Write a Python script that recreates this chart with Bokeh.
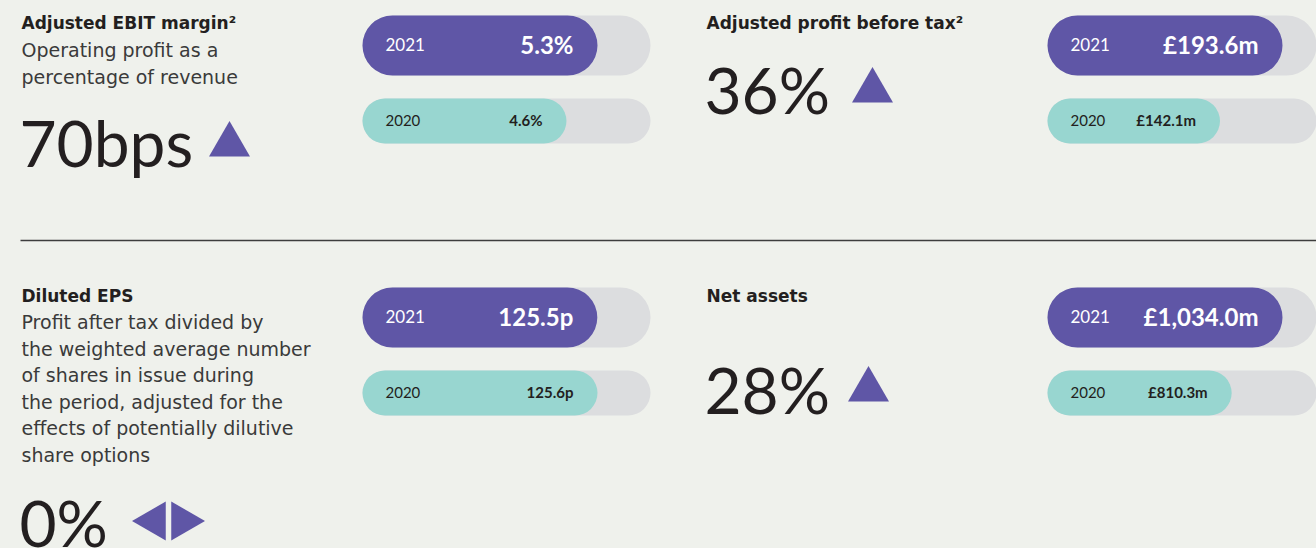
from bokeh.plotting import figure
from bokeh.models import Range1d
from bokeh.embed import file_html
from bokeh.resources import INLINE
from bokeh.core.properties import value
import math

# ---------------- data ----------------
metrics = ["Adjusted EBIT margin²", "Adjusted profit before tax²", "Diluted EPS", "Net assets"]
descriptions = [
    ["Operating profit as a", "percentage of revenue"],
    [],
    ["Profit after tax divided by", "the weighted average number", "of shares in issue during",
     "the period, adjusted for the", "effects of potentially dilutive", "share options"],
    [],
]
changes = ["70bps", "36%", "0%", "28%"]
direction = ["up", "up", "flat", "up"]
years = ["2021", "2020"]
values_2021 = [5.3, 193.6, 125.5, 1034.0]
values_2020 = [4.6, 142.1, 125.6, 810.3]
labels_2021 = ["5.3%", "£193.6m", "125.5p", "£1,034.0m"]
labels_2020 = ["4.6%", "£142.1m", "125.6p", "£810.3m"]

# ---------------- style / layout ----------------
BG = "#eff1ec"
PURPLE = "#5f56a6"
TEAL = "#98d6d0"
TRACK = "#dcdddf"
INK = "#231f20"
DESC = "#3a3a3a"
FONT = value("Lato")
BODY_FONT = value("DejaVu Sans")
BL = 0.4  # baseline correction (em)

W, H = 1316, 548
text_x = [21, 706, 21, 706]
bar_x0 = [362, 1047, 362, 1047]
title_y = [29, 29, 302, 302]
desc_y0 = [57, 0, 329, 0]
desc_step = 26.6
big_y = [168, 115, 548, 415]
tri_x = [229, 872, 0, 868]
tri_base = [156, 102, 0, 401]
bar21_y = [45, 45, 317, 317]
bar20_y = [120.5, 120.5, 392.5, 392.5]
BAR_LEN = 235
TRACK_LEN = 288
TITLE_SIZE, DESC_SIZE, BIG_SIZE = 17, 19, 64

p = figure(width=W, height=H, x_range=Range1d(0, W), y_range=Range1d(H, 0),
           output_backend="svg", toolbar_location=None, min_border=0,
           x_axis_location=None, y_axis_location=None,
           background_fill_color=BG, border_fill_color=BG, outline_line_color=None)
p.grid.visible = False

# divider line
p.segment(x0=[20], x1=[W], y0=[240], y1=[240], line_color="#3d3d3d", line_width=1.3)

for i in range(4):
    # title
    p.text(x=[text_x[i]], y=[title_y[i] - BL * TITLE_SIZE], text=[metrics[i]],
           text_font=BODY_FONT, text_font_size=f"{TITLE_SIZE}px", text_font_style="bold",
           text_color=INK, text_baseline="alphabetic", text_align="left")
    # description
    if descriptions[i]:
        ys = [desc_y0[i] + k * desc_step - BL * DESC_SIZE for k in range(len(descriptions[i]))]
        p.text(x=[text_x[i]] * len(ys), y=ys, text=descriptions[i], text_font=BODY_FONT,
               text_font_size=f"{DESC_SIZE}px", text_color=DESC,
               text_baseline="alphabetic", text_align="left")
    # big change number
    p.text(x=[text_x[i] - 2], y=[big_y[i] - BL * BIG_SIZE], text=[changes[i]], text_font=FONT,
           text_font_size=f"{BIG_SIZE}px", text_color=INK,
           text_baseline="alphabetic", text_align="left")
    # direction marker
    if direction[i] == "up":
        p.scatter(x=[tri_x[i]], y=[tri_base[i] - 41 * math.sqrt(3) / 2 / 3], marker="triangle",
                  size=41, fill_color=PURPLE, line_color=None)
    else:
        p.scatter(x=[154], y=[520.5], marker="triangle", angle=math.pi / 2,
                  size=39, fill_color=PURPLE, line_color=None)
        p.scatter(x=[182], y=[520.5], marker="triangle", angle=-math.pi / 2,
                  size=39, fill_color=PURPLE, line_color=None)

    # bars: value scale per panel
    x0 = bar_x0[i]
    s = BAR_LEN / max(values_2021[i], values_2020[i])
    name = f"bars{i}"
    p.extra_x_ranges[name] = Range1d(start=(0 - x0) / s, end=(W - x0) / s)

    # tracks
    p.hbar(y=[bar21_y[i]], left=[x0], right=[x0 + TRACK_LEN], height=60,
           fill_color=TRACK, line_color=None, border_radius=30)
    p.hbar(y=[bar20_y[i]], left=[x0], right=[x0 + TRACK_LEN], height=45,
           fill_color=TRACK, line_color=None, border_radius=23)
    # value bars
    p.hbar(y=[bar21_y[i]], left=[0], right=[values_2021[i]], height=60,
           fill_color=PURPLE, line_color=None, border_radius=30, x_range_name=name)
    p.hbar(y=[bar20_y[i]], left=[0], right=[values_2020[i]], height=45,
           fill_color=TEAL, line_color=None, border_radius=23, x_range_name=name)
    # year labels
    p.text(x=[0], y=[bar21_y[i]], text=[years[0]], x_range_name=name, x_offset=23,
           y_offset=-1.5, text_font=FONT, text_font_size="17px", text_color="white",
           text_baseline="middle", text_align="left")
    p.text(x=[0], y=[bar20_y[i]], text=[years[1]], x_range_name=name, x_offset=23,
           y_offset=-1, text_font=FONT, text_font_size="15px", text_color=INK,
           text_baseline="middle", text_align="left")
    # value labels
    p.text(x=[values_2021[i]], y=[bar21_y[i]], text=[labels_2021[i]], x_range_name=name,
           x_offset=-24, y_offset=-1.5, text_font=FONT, text_font_size="24px",
           text_font_style="bold", text_color="white", text_baseline="middle",
           text_align="right")
    p.text(x=[values_2020[i]], y=[bar20_y[i]], text=[labels_2020[i]], x_range_name=name,
           x_offset=-24, y_offset=-1, text_font=FONT, text_font_size="15px",
           text_font_style="bold", text_color=INK, text_baseline="middle",
           text_align="right")

html = file_html(p, INLINE)
html = html.replace("<head>", "<head><style>body{background:#eff1ec;}</style>", 1)
open("out.html", "w").write(html)
